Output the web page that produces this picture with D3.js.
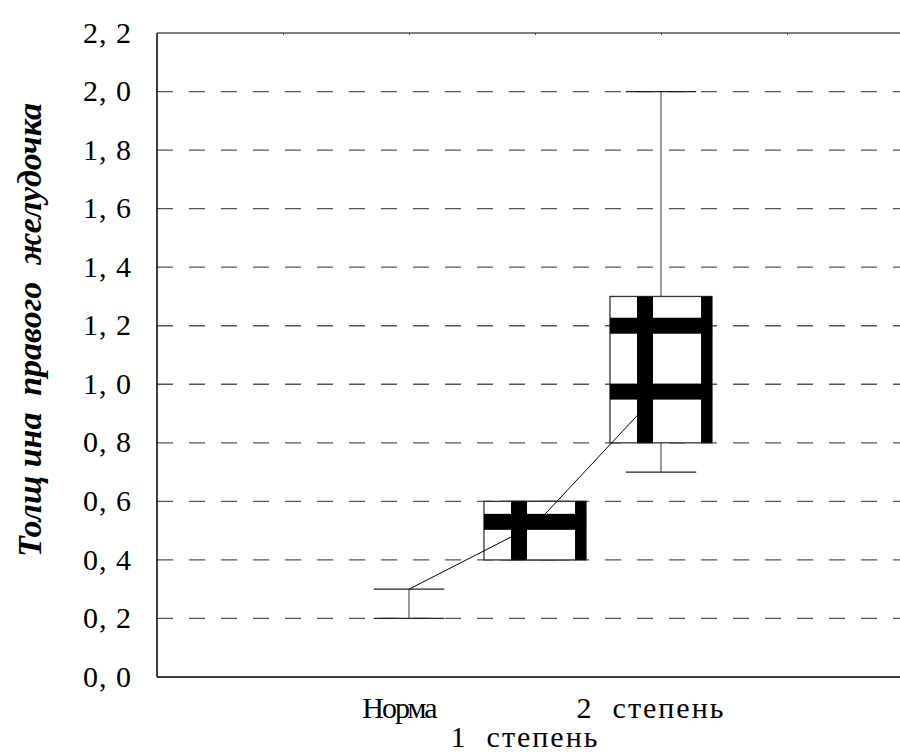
<!DOCTYPE html>
<html>
<head>
<meta charset="utf-8">
<script src="https://cdn.jsdelivr.net/npm/d3@7"></script>
</head>
<body style="margin:0">
<svg width="900" height="754"></svg>
<script>
// data
const categories = ['Норма', '1 степень', '2 степень'];
const whiskerLow = [0.2, 0.4, 0.7];
const boxLow = [0.3, 0.4, 0.8];
const boxHigh = [0.3, 0.6, 1.3];
const whiskerHigh = [0.3, 0.6, 2.0];
const means = [0.3, 0.52, 0.98];
const thickBars = [[], [0.53], [1.2, 0.975]];
const yTicks = [0, 0.2, 0.4, 0.6, 0.8, 1.0, 1.2, 1.4, 1.6, 1.8, 2.0, 2.2];

const nb = '\u00A0';
const fontStyle = "font-family: 'Liberation Serif'";
const svg = d3.select('svg');

const plotLeft = 157, plotTop = 33, plotBottom = 677, plotRight = 913;

// categories sit on slots 2,3,4 of a 0..6 grid
const x = d3.scaleLinear().domain([0, 6]).range([plotLeft, plotRight]);
const y = d3.scaleLinear().domain([0, 2.2]).range([plotBottom, plotTop]);
const cx = i => x(i + 2);
const step = x(1) - x(0);
const boxW = step * 0.81;
const capW = step * 0.56;

// dashed grid
svg.selectAll('.grid')
    .data(yTicks.filter(d => d > 0 && d < 2.2))
    .enter()
    .append('line')
    .attr('class', 'grid')
    .attr('x1', plotLeft)
    .attr('x2', 900)
    .attr('y1', d => y(d))
    .attr('y2', d => y(d))
    .attr('stroke', '#555')
    .attr('stroke-width', 1.3)
    .attr('stroke-dasharray', '16,16');

// frame
svg.append('line').attr('x1', plotLeft).attr('x2', 900).attr('y1', plotTop).attr('y2', plotTop)
    .attr('stroke', '#555').attr('stroke-width', 1.5);
svg.append('line').attr('x1', plotLeft).attr('x2', 900).attr('y1', plotBottom).attr('y2', plotBottom)
    .attr('stroke', '#000').attr('stroke-width', 1.5);
svg.append('line').attr('x1', plotLeft).attr('x2', plotLeft).attr('y1', plotTop).attr('y2', plotBottom)
    .attr('stroke', '#000').attr('stroke-width', 1.5);

// small ticks on the top edge
svg.append('g')
    .attr('transform', `translate(0,${plotTop})`)
    .call(d3.axisBottom(x).ticks(6).tickSize(2).tickFormat(''))
    .call(g => g.select('.domain').remove())
    .selectAll('line').attr('stroke', '#444');

// y tick labels
svg.selectAll('.ylab')
    .data(yTicks)
    .enter()
    .append('text')
    .attr('class', 'ylab')
    .attr('style', fontStyle)
    .attr('x', 132)
    .attr('y', d => y(d))
    .attr('dy', '0.32em')
    .attr('text-anchor', 'end')
    .attr('font-size', 30)
    .attr('letter-spacing', 1)
    .text(d => d3.format('.1f')(d).replace('.', ',' + nb));

// y axis title
svg.append('text')
    .attr('style', fontStyle)
    .attr('transform', 'translate(41,330) rotate(-90)')
    .attr('text-anchor', 'middle')
    .attr('font-size', 34)
    .attr('font-weight', 'bold')
    .attr('font-style', 'italic')
    .attr('textLength', 454)
    .attr('lengthAdjust', 'spacing')
    .text('Толщ ина' + nb + ' правого' + nb + ' желудочка');

// x labels, staggered
svg.selectAll('.xlab')
    .data(categories)
    .enter()
    .append('text')
    .attr('class', 'xlab')
    .attr('style', fontStyle)
    .attr('x', (d, i) => cx(i) - 10)
    .attr('y', (d, i) => i % 2 ? 747 : 718)
    .attr('text-anchor', 'middle')
    .attr('font-size', 30)
    .attr('letter-spacing', (d, i) => i === 0 ? -2 : 2)
    .text(d => d.replace(' ', nb + nb));

const idx = d3.range(categories.length);

// whisker stems
svg.selectAll('.stem')
    .data(idx)
    .enter()
    .append('line')
    .attr('x1', i => cx(i))
    .attr('x2', i => cx(i))
    .attr('y1', i => y(whiskerLow[i]))
    .attr('y2', i => y(whiskerHigh[i]))
    .attr('stroke', '#555')
    .attr('stroke-width', 1.2);

// whisker caps
idx.forEach(i => {
    [whiskerLow[i], whiskerHigh[i]].forEach(v => {
        svg.append('line')
            .attr('x1', cx(i) - capW / 2)
            .attr('x2', cx(i) + capW / 2)
            .attr('y1', y(v))
            .attr('y2', y(v))
            .attr('stroke', '#222')
            .attr('stroke-width', 1.3);
    });
});

// boxes
svg.selectAll('.box')
    .data(idx)
    .enter()
    .append('rect')
    .attr('x', i => cx(i) - boxW / 2)
    .attr('y', i => y(boxHigh[i]))
    .attr('width', boxW)
    .attr('height', i => y(boxLow[i]) - y(boxHigh[i]))
    .attr('fill', '#fff')
    .attr('stroke', '#333')
    .attr('stroke-width', 1.3);

// line through the means
svg.append('path')
    .datum(idx)
    .attr('d', d3.line().x(i => cx(i)).y(i => y(means[i])))
    .attr('fill', 'none')
    .attr('stroke', '#000')
    .attr('stroke-width', 1);

// thick black bars inside boxes
idx.forEach(i => {
    if (!thickBars[i].length) return;
    const x0 = cx(i) - boxW / 2, x1 = cx(i) + boxW / 2;
    const yt = y(boxHigh[i]), yb = y(boxLow[i]);
    svg.append('rect').attr('x', cx(i) - 24).attr('width', 16)
        .attr('y', yt).attr('height', yb - yt).attr('fill', '#000');
    svg.append('rect').attr('x', x1 - 11).attr('width', 11)
        .attr('y', yt).attr('height', yb - yt).attr('fill', '#000');
    thickBars[i].forEach(v => {
        svg.append('rect').attr('x', x0).attr('width', boxW)
            .attr('y', y(v) - 8).attr('height', 16).attr('fill', '#000');
    });
});
</script>
</body>
</html>
